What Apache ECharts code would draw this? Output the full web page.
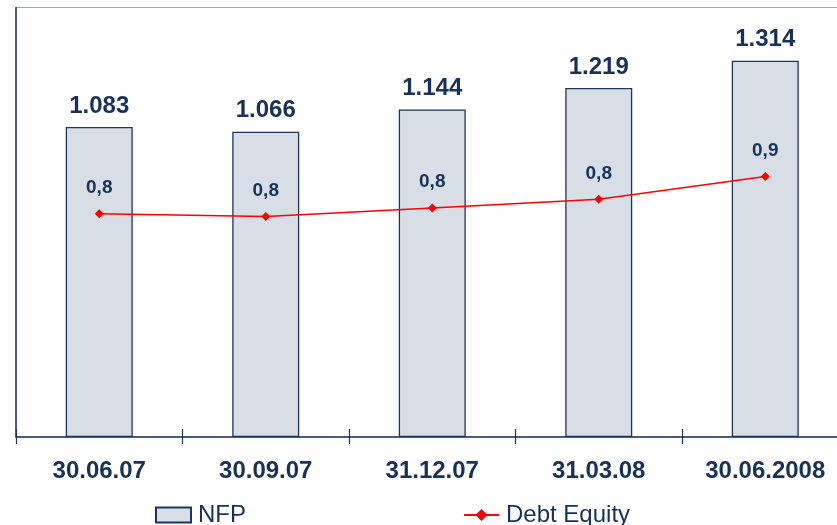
<!DOCTYPE html>
<html>
<head>
<meta charset="utf-8">
<script src="https://cdn.jsdelivr.net/npm/echarts@6/dist/echarts.min.js"></script>
<style>
  html, body { margin: 0; padding: 0; background: #fff; }
  #chart { width: 837px; height: 525px; }
</style>
</head>
<body>
<div id="chart"></div>
<script>
// Quarter-end dates
const categories = ['30.06.07', '30.09.07', '31.12.07', '31.03.08', '30.06.2008'];
// Net financial position (thousands separator shown as '.')
const nfpValues = [1083, 1066, 1144, 1219, 1314];
// Debt / equity ratio
const debtEquityValues = [0.78, 0.77, 0.80, 0.83, 0.91];

const navy = '#1b365f';
const textNavy = '#17315c';
const font = 'Liberation Sans, Arial, sans-serif';

const fmtThousands = v => String(Math.round(v)).replace(/\B(?=(\d{3})+(?!\d))/g, '.');
const fmtRatio = v => v.toFixed(1).replace('.', ',');

const chart = echarts.init(document.getElementById('chart'), null, { renderer: 'canvas' });

chart.setOption({
  animation: false,
  backgroundColor: '#ffffff',
  textStyle: { fontFamily: font },
  grid: {
    left: 16,
    width: 832.5,
    top: 7.5,
    bottom: 88,
    outerBoundsMode: 'none',
    containLabel: false,
    show: true,
    borderColor: '#a6a6a6',
    borderWidth: 1,
    backgroundColor: 'transparent'
  },
  legend: {
    left: 155,
    top: 503,
    padding: 0,
    itemWidth: 35,
    itemHeight: 15,
    itemGap: 217,
    textStyle: { color: textNavy, fontSize: 24, fontFamily: font, padding: [0, 0, 0, 2] },
    data: [
      { name: 'NFP', icon: 'rect' },
      { name: 'Debt Equity' }
    ]
  },
  xAxis: [
    {
      type: 'category',
      data: categories,
      boundaryGap: true,
      axisLine: { show: true, lineStyle: { color: navy, width: 1.5 } },
      axisTick: { show: true, length: 7, inside: false, lineStyle: { color: navy, width: 1.2 } },
      axisLabel: {
        color: textNavy,
        fontSize: 24,
        fontWeight: 'bold',
        margin: 22,
        fontFamily: font
      }
    },
    {
      // upper half of the crossing tick marks
      type: 'category',
      data: categories,
      position: 'bottom',
      boundaryGap: true,
      axisLine: { show: false },
      axisTick: { show: true, length: 8, inside: true, lineStyle: { color: navy, width: 1.2 } },
      axisLabel: { show: false }
    }
  ],
  yAxis: [
    {
      type: 'value',
      min: 0,
      max: 1500,
      axisLine: { show: true, lineStyle: { color: navy, width: 1.5 } },
      axisTick: { show: false },
      axisLabel: { show: false },
      splitLine: { show: false }
    },
    {
      type: 'value',
      min: 0,
      max: 1.5,
      axisLine: { show: false },
      axisTick: { show: false },
      axisLabel: { show: false },
      splitLine: { show: false }
    }
  ],
  series: [
    {
      name: 'NFP',
      type: 'bar',
      data: nfpValues,
      barWidth: 67,
      itemStyle: { color: '#d7dee6', borderColor: navy, borderWidth: 1.3 },
      label: {
        show: true,
        position: 'top',
        distance: 9,
        color: textNavy,
        fontSize: 24,
        fontWeight: 'bold',
        fontFamily: font,
        formatter: p => fmtThousands(p.value)
      }
    },
    {
      name: 'Debt Equity',
      type: 'line',
      yAxisIndex: 1,
      data: debtEquityValues,
      symbol: 'diamond',
      symbolSize: 9,
      lineStyle: { color: '#ff0000', width: 1.5 },
      itemStyle: { color: '#ff0000' },
      label: {
        show: true,
        position: 'top',
        distance: 12,
        color: textNavy,
        fontSize: 19,
        fontWeight: 'bold',
        fontFamily: font,
        formatter: p => fmtRatio(p.value)
      },
      z: 3
    }
  ]
});
</script>
</body>
</html>
